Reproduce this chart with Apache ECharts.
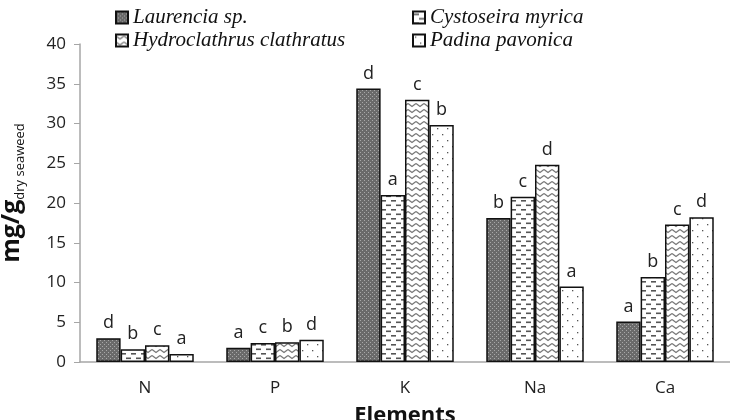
<!DOCTYPE html>
<html><head><meta charset="utf-8">
<script src="https://cdn.jsdelivr.net/npm/echarts@6/dist/echarts.min.js"></script>
<style>html,body{margin:0;padding:0;background:#fff}#c{width:730px;height:420px}</style>
</head><body><div id="c"></div>
<script>
const categories = ['N', 'P', 'K', 'Na', 'Ca'];
const seriesNames = ['Laurencia sp.', 'Cystoseira myrica', 'Hydroclathrus clathratus', 'Padina pavonica'];
const laurencia = [3.0, 1.8, 34.4, 18.1, 5.1];
const cystoseira = [1.6, 2.4, 21.0, 20.8, 10.7];
const hydroclathrus = [2.1, 2.5, 33.0, 24.8, 17.3];
const padina = [1.0, 2.8, 29.8, 9.5, 18.2];
const letLaurencia = ['d', 'a', 'd', 'b', 'a'];
const letCystoseira = ['b', 'c', 'a', 'c', 'b'];
const letHydroclathrus = ['c', 'b', 'c', 'd', 'c'];
const letPadina = ['a', 'd', 'b', 'a', 'd'];
const yTicks = [0, 5, 10, 15, 20, 25, 30, 35, 40];

function tile(w, h, draw) {
  const c = document.createElement('canvas');
  c.width = w; c.height = h;
  const g = c.getContext('2d');
  draw(g);
  return { image: c, repeat: 'repeat' };
}
const patLaurencia = tile(4, 4, g => {
  g.fillStyle = '#6a6a6a'; g.fillRect(0, 0, 4, 4);
  g.fillStyle = '#a8a8a8'; g.fillRect(0, 0, 1, 1); g.fillRect(2, 2, 1, 1);
});
const patCystoseira = tile(10, 9, g => {
  g.fillStyle = '#fff'; g.fillRect(0, 0, 10, 9);
  g.fillStyle = '#555'; g.fillRect(1, 2, 5, 1.6); g.fillRect(6, 6.5, 4, 1.6); g.fillRect(0, 6.5, 1, 1.6);
});
const patHydro = tile(8, 6, g => {
  g.fillStyle = '#fff'; g.fillRect(0, 0, 8, 6);
  g.strokeStyle = '#777'; g.lineWidth = 1.3;
  g.beginPath(); g.moveTo(0, 1.5); g.lineTo(4, 4.5); g.lineTo(8, 1.5); g.stroke();
});
const patPadina = tile(10, 12, g => {
  g.fillStyle = '#fff'; g.fillRect(0, 0, 10, 12);
  g.fillStyle = '#555'; g.fillRect(2, 2, 1.3, 1.3); g.fillRect(7, 8, 1.3, 1.3);
});

const values = [laurencia, cystoseira, hydroclathrus, padina];
const letters = [letLaurencia, letCystoseira, letHydroclathrus, letPadina];
const pats = [patLaurencia, patCystoseira, patHydro, patPadina];

const chart = echarts.init(document.getElementById('c'), null, { renderer: 'canvas' });
const legendPos = [[110, 2], [407, 2], [110, 25], [407, 25]];
chart.setOption({
  animation: false,
  backgroundColor: '#fff',
  legend: seriesNames.map((n, i) => ({
    data: [n], left: legendPos[i][0], top: legendPos[i][1], icon: 'rect',
    itemWidth: 12, itemHeight: 12, itemGap: 5,
    textStyle: { fontFamily: 'Liberation Serif', fontStyle: 'italic', fontSize: 21, color: '#111' }
  })),
  grid: { left: 80, right: 0, top: 44, bottom: 58, outerBoundsMode: 'none', containLabel: false },
  xAxis: {
    type: 'category', data: categories,
    name: 'Elements', nameLocation: 'middle', nameGap: 43,
    nameTextStyle: { fontFamily: 'Open Sans', fontWeight: 'bold', fontSize: 22, color: '#111' },
    axisLine: { lineStyle: { color: '#a6a6a6', width: 1.5 } },
    axisTick: { lineStyle: { color: '#a6a6a6' }, length: 6 },
    axisLabel: { fontFamily: 'Open Sans', fontSize: 17, color: '#222', margin: 18 }
  },
  yAxis: {
    type: 'value', min: yTicks[0], max: yTicks[yTicks.length - 1], interval: 5,
    name: '{a|mg/g}{b|dry seaweed}', nameLocation: 'middle', nameGap: 53,
    nameTextStyle: {
      padding: [0, 0, 0, 20],
      rich: {
        a: { fontFamily: 'Open Sans', fontWeight: 'bold', fontSize: 25, color: '#111', lineHeight: 28 },
        b: { fontFamily: 'Open Sans', fontSize: 13, color: '#111', verticalAlign: 'bottom', padding: [18, 0, 0, 0] }
      }
    },
    splitLine: { show: false },
    axisLine: { show: true, lineStyle: { color: '#a6a6a6', width: 1.5 } },
    axisTick: { show: true, length: 6, lineStyle: { color: '#a6a6a6' } },
    axisLabel: { fontFamily: 'Open Sans', fontSize: 17, color: '#222', margin: 14 }
  },
  series: seriesNames.map((n, i) => ({
    name: n, type: 'bar', data: values[i],
    barGap: '0%', barCategoryGap: '25%',
    itemStyle: { color: pats[i], borderColor: '#111', borderWidth: 1.5 },
    label: {
      show: true, position: 'top', distance: 6,
      fontFamily: 'Open Sans', fontSize: 18, color: '#222',
      formatter: p => letters[i][p.dataIndex]
    }
  }))
});
</script></body></html>
